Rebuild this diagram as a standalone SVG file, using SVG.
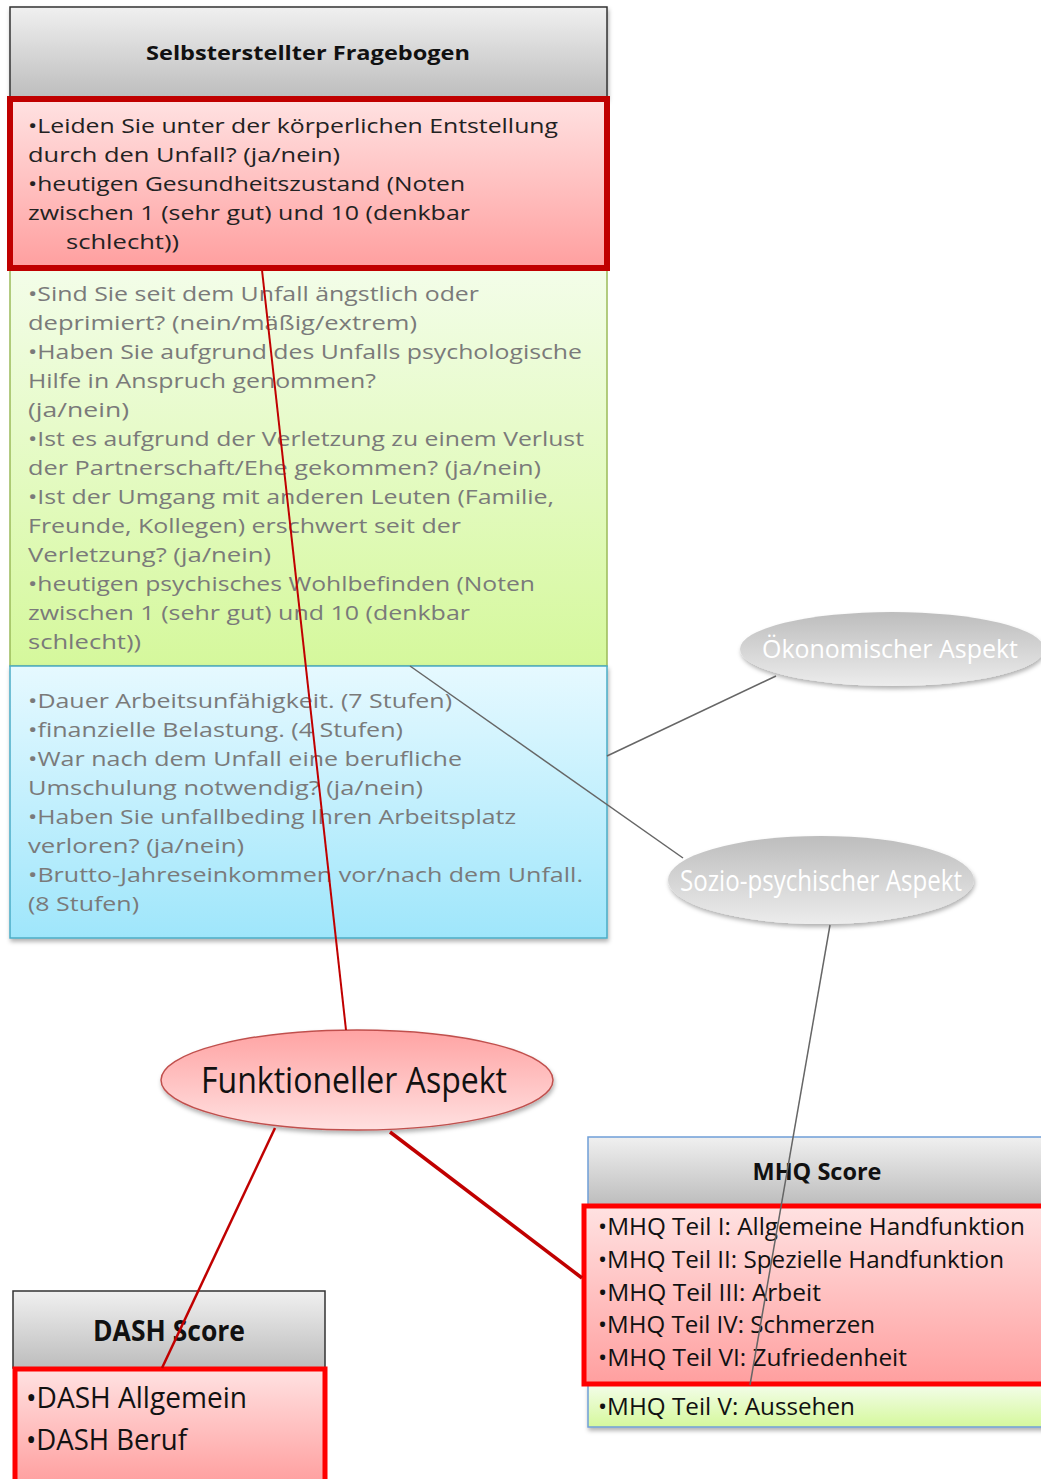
<svg xmlns="http://www.w3.org/2000/svg" width="1041" height="1479" viewBox="0 0 1041 1479">
<defs>
<linearGradient id="gGray" x1="0" y1="0" x2="0" y2="1"><stop offset="0" stop-color="#f0f0f0"/><stop offset="1" stop-color="#bdbdbd"/></linearGradient>
<linearGradient id="gRed" x1="0" y1="0" x2="0" y2="1"><stop offset="0" stop-color="#ffe2e2"/><stop offset="1" stop-color="#ff9f9f"/></linearGradient>
<linearGradient id="gGreen" x1="0" y1="0" x2="0" y2="1"><stop offset="0" stop-color="#f3fde9"/><stop offset="1" stop-color="#d5f89c"/></linearGradient>
<linearGradient id="gBlue" x1="0" y1="0" x2="0" y2="1"><stop offset="0" stop-color="#e6f9ff"/><stop offset="1" stop-color="#9fe6fb"/></linearGradient>
<linearGradient id="gEll" x1="0" y1="0" x2="0" y2="1"><stop offset="0" stop-color="#bdbdbd"/><stop offset="1" stop-color="#ececec"/></linearGradient>
<linearGradient id="gEllRed" x1="0" y1="0" x2="0" y2="1"><stop offset="0" stop-color="#ffa3a3"/><stop offset="1" stop-color="#ffe0e0"/></linearGradient>
<filter id="sh" x="-10%" y="-10%" width="120%" height="130%"><feDropShadow dx="1" dy="3" stdDeviation="2" flood-color="#000" flood-opacity="0.3"/></filter>
</defs>
<style>
text{font-family:"Open Sans","Liberation Sans",sans-serif}
.body{font-size:20px;fill:#222}
.gr{font-size:20px;fill:#7a7a7a}
.hd{font-size:20px;font-weight:bold;fill:#111;text-anchor:middle}
.mhq{font-size:24px;fill:#111}
.el{fill:#fff;text-anchor:middle}
.gline{stroke:#666;stroke-width:1.5;fill:none}
.rline{stroke:#c00000;fill:none}
</style>

<g id="fragebogen">
<rect x="10" y="7" width="597" height="91" fill="url(#gGray)" stroke="#333" stroke-width="1.5" filter="url(#sh)"/>
<text class="hd" x="308" y="60" textLength="324" lengthAdjust="spacingAndGlyphs">Selbsterstellter Fragebogen</text>
<rect x="10" y="268" width="597" height="398" fill="url(#gGreen)" stroke="#9bbb59" stroke-width="1.5"/>
<rect x="10" y="666" width="597" height="272" fill="url(#gBlue)" stroke="#4bacc6" stroke-width="1.5" filter="url(#sh)"/>
<rect x="10" y="99" width="597" height="169" fill="url(#gRed)" stroke="#c00000" stroke-width="6"/>
<text class="body" x="28" y="133" textLength="530" lengthAdjust="spacingAndGlyphs">•Leiden Sie unter der körperlichen Entstellung</text>
<text class="body" x="28" y="162" textLength="312" lengthAdjust="spacingAndGlyphs">durch den Unfall? (ja/nein)</text>
<text class="body" x="28" y="191" textLength="437" lengthAdjust="spacingAndGlyphs">•heutigen Gesundheitszustand (Noten</text>
<text class="body" x="28" y="220" textLength="442" lengthAdjust="spacingAndGlyphs">zwischen 1 (sehr gut) und 10 (denkbar</text>
<text class="body" x="66" y="249" textLength="113" lengthAdjust="spacingAndGlyphs">schlecht))</text>

<text class="gr" x="28" y="301" textLength="451" lengthAdjust="spacingAndGlyphs">•Sind Sie seit dem Unfall ängstlich oder</text>
<text class="gr" x="28" y="330" textLength="389" lengthAdjust="spacingAndGlyphs">deprimiert? (nein/mäßig/extrem)</text>
<text class="gr" x="28" y="359" textLength="554" lengthAdjust="spacingAndGlyphs">•Haben Sie aufgrund des Unfalls psychologische</text>
<text class="gr" x="28" y="388" textLength="348" lengthAdjust="spacingAndGlyphs">Hilfe in Anspruch genommen?</text>
<text class="gr" x="28" y="417" textLength="101" lengthAdjust="spacingAndGlyphs">(ja/nein)</text>
<text class="gr" x="28" y="446" textLength="556" lengthAdjust="spacingAndGlyphs">•Ist es aufgrund der Verletzung zu einem Verlust</text>
<text class="gr" x="28" y="475" textLength="513" lengthAdjust="spacingAndGlyphs">der Partnerschaft/Ehe gekommen? (ja/nein)</text>
<text class="gr" x="28" y="504" textLength="526" lengthAdjust="spacingAndGlyphs">•Ist der Umgang mit anderen Leuten (Familie,</text>
<text class="gr" x="28" y="533" textLength="433" lengthAdjust="spacingAndGlyphs">Freunde, Kollegen) erschwert seit der</text>
<text class="gr" x="28" y="562" textLength="243" lengthAdjust="spacingAndGlyphs">Verletzung? (ja/nein)</text>
<text class="gr" x="28" y="591" textLength="507" lengthAdjust="spacingAndGlyphs">•heutigen psychisches Wohlbefinden (Noten</text>
<text class="gr" x="28" y="620" textLength="442" lengthAdjust="spacingAndGlyphs">zwischen 1 (sehr gut) und 10 (denkbar</text>
<text class="gr" x="28" y="649" textLength="113" lengthAdjust="spacingAndGlyphs">schlecht))</text>

<text class="gr" x="28" y="708" textLength="424" lengthAdjust="spacingAndGlyphs">•Dauer Arbeitsunfähigkeit. (7 Stufen)</text>
<text class="gr" x="28" y="737" textLength="375" lengthAdjust="spacingAndGlyphs">•finanzielle Belastung. (4 Stufen)</text>
<text class="gr" x="28" y="766" textLength="434" lengthAdjust="spacingAndGlyphs">•War nach dem Unfall eine berufliche</text>
<text class="gr" x="28" y="795" textLength="395" lengthAdjust="spacingAndGlyphs">Umschulung notwendig? (ja/nein)</text>
<text class="gr" x="28" y="824" textLength="488" lengthAdjust="spacingAndGlyphs">•Haben Sie unfallbeding Ihren Arbeitsplatz</text>
<text class="gr" x="28" y="853" textLength="216" lengthAdjust="spacingAndGlyphs">verloren? (ja/nein)</text>
<text class="gr" x="28" y="882" textLength="555" lengthAdjust="spacingAndGlyphs">•Brutto-Jahreseinkommen vor/nach dem Unfall.</text>
<text class="gr" x="28" y="911" textLength="111" lengthAdjust="spacingAndGlyphs">(8 Stufen)</text>
</g>

<g id="oekonomisch">
<ellipse cx="892" cy="649" rx="152" ry="37" fill="url(#gEll)" filter="url(#sh)"/>
<text class="el" x="890" y="658" font-size="25" textLength="256" lengthAdjust="spacingAndGlyphs">Ökonomischer Aspekt</text>
</g>

<g id="sozio">
<ellipse cx="821" cy="880" rx="153" ry="44" fill="url(#gEll)" filter="url(#sh)"/>
<text class="el" x="821" y="891" font-size="30" textLength="282" lengthAdjust="spacingAndGlyphs">Sozio-psychischer Aspekt</text>
</g>

<g id="funktionell">
<ellipse cx="357" cy="1080" rx="196" ry="50" fill="url(#gEllRed)" stroke="#c0504d" stroke-width="1.5" filter="url(#sh)"/>
<text x="354" y="1093" font-size="36" fill="#111" text-anchor="middle" textLength="306" lengthAdjust="spacingAndGlyphs">Funktioneller Aspekt</text>
</g>

<g id="mhq">
<rect x="588" y="1137" width="460" height="68" fill="url(#gGray)" stroke="#6f9fd8" stroke-width="1.5"/>
<text x="817" y="1180" font-size="24" font-weight="bold" fill="#111" text-anchor="middle" textLength="129" lengthAdjust="spacingAndGlyphs">MHQ Score</text>
<rect x="588" y="1385" width="460" height="42" fill="url(#gGreen)" stroke="#6f9fd8" stroke-width="1.5" filter="url(#sh)"/>
<rect x="584" y="1206" width="464" height="178" fill="url(#gRed)" stroke="#ff0000" stroke-width="5"/>
<text class="mhq" x="598" y="1235" textLength="427" lengthAdjust="spacingAndGlyphs">•MHQ Teil I: Allgemeine Handfunktion</text>
<text class="mhq" x="598" y="1268" textLength="406" lengthAdjust="spacingAndGlyphs">•MHQ Teil II: Spezielle Handfunktion</text>
<text class="mhq" x="598" y="1301" textLength="223" lengthAdjust="spacingAndGlyphs">•MHQ Teil III: Arbeit</text>
<text class="mhq" x="598" y="1333" textLength="277" lengthAdjust="spacingAndGlyphs">•MHQ Teil IV: Schmerzen</text>
<text class="mhq" x="598" y="1366" textLength="309" lengthAdjust="spacingAndGlyphs">•MHQ Teil VI: Zufriedenheit</text>
<text class="mhq" x="598" y="1415" textLength="257" lengthAdjust="spacingAndGlyphs">•MHQ Teil V: Aussehen</text>
</g>

<g id="dash">
<rect x="13" y="1291" width="312" height="77" fill="url(#gGray)" stroke="#333" stroke-width="1.5"/>
<text x="169" y="1341" font-size="28" font-weight="bold" fill="#111" text-anchor="middle" textLength="152" lengthAdjust="spacingAndGlyphs">DASH Score</text>
<rect x="15" y="1369" width="310" height="115" fill="url(#gRed)" stroke="#ff0000" stroke-width="5"/>
<text x="26" y="1408" font-size="30" fill="#111" textLength="221" lengthAdjust="spacingAndGlyphs">•DASH Allgemein</text>
<text x="26" y="1450" font-size="30" fill="#111" textLength="161" lengthAdjust="spacingAndGlyphs">•DASH Beruf</text>
</g>

<g id="connectors">
<line class="rline" x1="262" y1="270" x2="346" y2="1030" stroke-width="2"/>
<line class="gline" x1="410" y1="666" x2="683" y2="858"/>
<line class="gline" x1="607" y1="756" x2="776" y2="676"/>
<line class="gline" x1="830" y1="925" x2="750" y2="1385"/>
<line class="rline" x1="275" y1="1128" x2="162" y2="1368" stroke-width="2.5"/>
<line class="rline" x1="390" y1="1132" x2="582" y2="1278" stroke-width="3.5"/>
</g>
</svg>
